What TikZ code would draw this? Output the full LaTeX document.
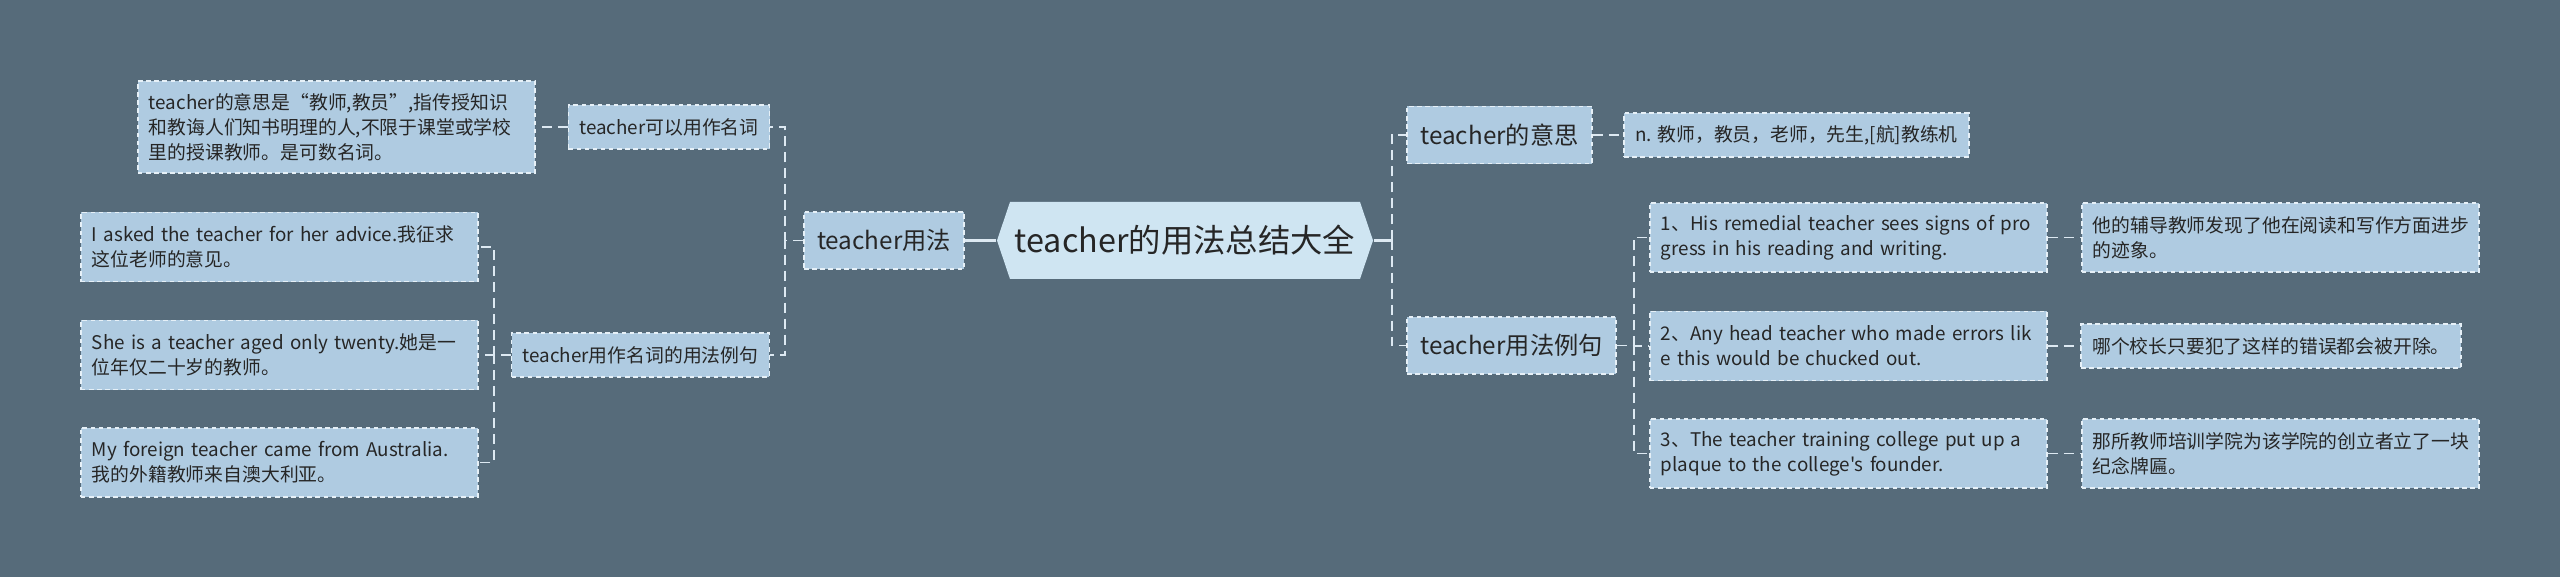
\documentclass[tikz,border=0pt]{standalone}
\usepackage{fontspec}
\setmainfont{Noto Sans CJK SC}[Ligatures=TeXOff]
\usetikzlibrary{calc}
\definecolor{bgslate}{HTML}{566B7A}
\definecolor{boxblue}{HTML}{AFCBE1}
\definecolor{rootblue}{HTML}{CFE5F2}
\definecolor{linepale}{HTML}{DDE9F2}
\definecolor{edgepale}{HTML}{E6F0F7}
\definecolor{inkdark}{HTML}{262626}
\tikzset{
	leaf/.style={draw=edgepale, fill=boxblue, line width=0.45pt, dash pattern=on 1.3pt off 1pt, text=inkdark, font=\fontsize{5.35}{7.1}\selectfont, align=left, inner xsep=0.11cm, inner ysep=0pt, text width=#1, minimum height=0.69cm},
	tag/.style={draw=edgepale, fill=boxblue, line width=0.45pt, dash pattern=on 1.3pt off 1pt, text=inkdark, font=\fontsize{5.35}{7.1}\selectfont, inner xsep=0.11cm, inner ysep=0pt, minimum width=#1, minimum height=0.44cm},
	branch/.style={draw=edgepale, fill=boxblue, line width=0.45pt, dash pattern=on 1.3pt off 1pt, text=inkdark, font=\fontsize{6.9}{8.3}\selectfont, inner xsep=0.1cm, inner ysep=0pt, minimum width=#1, minimum height=0.57cm},
	hub/.style={text=inkdark, font=\fontsize{9.2}{11}\selectfont, inner sep=0pt, minimum width=3.76cm, minimum height=0.77cm},
	link/.style={draw=linepale, line width=0.55pt, dash pattern=on 0.1cm off 0.06cm},
	stem/.style={draw=linepale, line width=0.7pt},
}

\begin{document}
\begin{tikzpicture}[x=0.01cm, y=-0.01cm]
			%%%%% START %%%%%
			
			\fill[bgslate] (0, 0) rectangle (2560, 577);
			
			\fill[rootblue] (997, 240.5) -- (1010, 202) -- (1360, 202) -- (1373, 240.5) -- (1360, 279) -- (1010, 279) -- cycle;
			\node[hub] (root) at (1185, 240.5) {teacher的用法总结大全};
			
			\node[branch=1.60cm] (usage) at (884, 240.5) {teacher用法};
			\node[tag=2.00cm] (noun) at (669, 127) {teacher可以用作名词};
			\node[tag=2.57cm] (lex) at (640.5, 355) {teacher用作名词的用法例句};
			\node[leaf=3.75cm, minimum height=0.92cm] (mean) at (336.5, 127) {teacher的意思是“教师,教员”,指传授知识\\和教诲人们知书明理的人,不限于课堂或学校\\里的授课教师。是可数名词。};
			\node[leaf=3.75cm] (ask) at (279.5, 247) {I asked the teacher for her advice.我征求\\这位老师的意见。};
			\node[leaf=3.75cm] (she) at (279.5, 355) {She is a teacher aged only twenty.她是一\\位年仅二十岁的教师。};
			\node[leaf=3.75cm] (foreign) at (279.5, 462.5) {My foreign teacher came from Australia.\\我的外籍教师来自澳大利亚。};
			
			\node[branch=1.85cm] (meaning) at (1499.5, 135) {teacher的意思};
			\node[tag=3.41cm] (def) at (1796.5, 135) {n. 教师，教员，老师，先生,[航]教练机};
			\node[branch=2.09cm] (sent) at (1511.5, 345.5) {teacher用法例句};
			
			\node[leaf=3.75cm] (ex1) at (1848.5, 237.5) {1、His remedial teacher sees signs of pro\\gress in his reading and writing.};
			\node[leaf=3.75cm] (tr1) at (2280.5, 237.5) {他的辅导教师发现了他在阅读和写作方面进步\\的迹象。};
			\node[leaf=3.75cm] (ex2) at (1848.5, 346) {2、Any head teacher who made errors lik\\e this would be chucked out.};
			\node[tag=3.78cm] (tr2) at (2271, 346) {哪个校长只要犯了这样的错误都会被开除。};
			\node[leaf=3.75cm] (ex3) at (1848.5, 453.5) {3、The teacher training college put up a\\plaque to the college's founder.};
			\node[leaf=3.75cm] (tr3) at (2280.5, 453.5) {那所教师培训学院为该学院的创立者立了一块\\纪念牌匾。};
			
			% left half
			\draw[stem] (root.west) -- (usage.east);
			\draw[link] (usage.west) -- ++(-18, 0) |- (noun.east);
			\draw[link] (usage.west) -- ++(-18, 0) |- (lex.east);
			\draw[link] (noun.west) -- (mean.east);
			\draw[link] (lex.west) -- ++(-17, 0) |- (ask.east);
			\draw[link] (lex.west) -- ++(-17, 0) |- (she.east);
			\draw[link] (lex.west) -- ++(-17, 0) |- (foreign.east);
			
			% right half
			\draw[stem] (root.east) -- ++(18, 0) coordinate (rfork);
			\draw[link] (rfork) |- (meaning.west);
			\draw[link] (rfork) |- (sent.west);
			\draw[link] (meaning.east) -- (def.west);
			\draw[link] (sent.east) -- ++(17, 0) |- (ex1.west);
			\draw[link] (sent.east) -- ++(17, 0) |- (ex2.west);
			\draw[link] (sent.east) -- ++(17, 0) |- (ex3.west);
			\draw[link] (ex1.east) -- (tr1.west);
			\draw[link] (ex2.east) -- (tr2.west);
			\draw[link] (ex3.east) -- (tr3.west);
			
			%%%%% END %%%%%
\end{tikzpicture}
\end{document}
